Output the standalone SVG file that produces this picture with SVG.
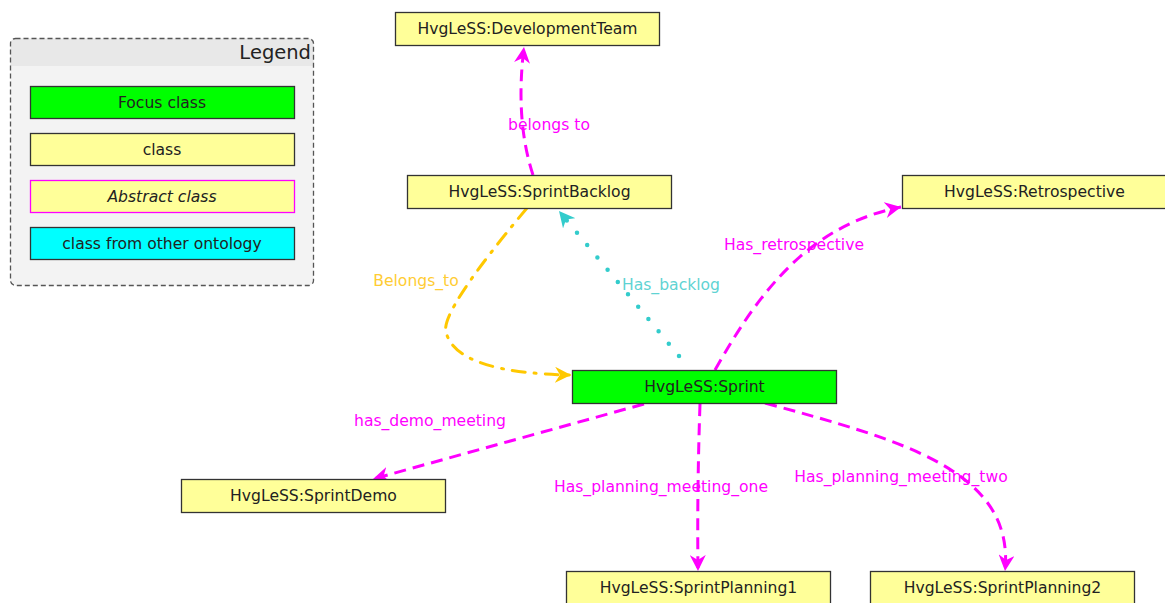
<svg xmlns="http://www.w3.org/2000/svg" width="1165" height="603" viewBox="0 0 1165 603">
  <style>
    text { font-family: "DejaVu Sans", "Liberation Sans", sans-serif; font-size: 15.6px; }
    .node rect { stroke: #333; stroke-width: 1.3; }
    .node text, .item text { fill: #222; text-anchor: middle; dominant-baseline: central; }
    .cls { fill: #ffff99; }
    .focus { fill: #00ff00; }
    .other { fill: #00ffff; }
    .edge { fill: none; stroke-width: 3; }
    .mag { stroke: #ff00ff; stroke-dasharray: 12 7; }
    .cyan { stroke: #33cccc; stroke-width: 4.5; stroke-dasharray: 0 16; stroke-linecap: round; }
    .gold { stroke: #ffc800; stroke-dasharray: 13 9 2 9; stroke-linecap: round; }
    .lbl { text-anchor: middle; dominant-baseline: central; }
  </style>
  <defs>
    <marker id="arrMag" markerUnits="userSpaceOnUse" markerWidth="18" markerHeight="16" refX="16" refY="8" orient="auto">
      <path d="M0,0 L16,8 L0,16 L5,8 z" fill="#ff00ff"/>
    </marker>
    <marker id="arrCyan" markerUnits="userSpaceOnUse" markerWidth="18" markerHeight="16" refX="16" refY="8" orient="auto">
      <path d="M0,0 L16,8 L0,16 L5,8 z" fill="#33cccc"/>
    </marker>
    <marker id="arrGold" markerUnits="userSpaceOnUse" markerWidth="18" markerHeight="16" refX="16" refY="8" orient="auto">
      <path d="M0,0 L16,8 L0,16 L5,8 z" fill="#ffc800"/>
    </marker>
  </defs>

  <!-- legend panel -->
  <g id="legend">
    <rect x="10.5" y="38.5" width="303" height="247" rx="5" fill="#f3f3f3"/>
    <path d="M10.5,66 V43.5 a5,5 0 0 1 5,-5 H308.5 a5,5 0 0 1 5,5 V66 z" fill="#e8e8e8"/>
    <rect x="10.5" y="38.5" width="303" height="247" rx="5" fill="none" stroke="#555" stroke-width="1.3" stroke-dasharray="5 3"/>
    <text x="311" y="52" text-anchor="end" dominant-baseline="central" style="font-size:19.5px" fill="#222">Legend</text>
    <g class="node item">
      <rect class="focus" x="30.5" y="86.5" width="264" height="32"/>
      <text x="162" y="102.5">Focus class</text>
    </g>
    <g class="node item">
      <rect class="cls" x="30.5" y="133.5" width="264" height="32"/>
      <text x="162" y="149.5">class</text>
    </g>
    <g class="item">
      <rect class="cls" x="30.5" y="180.5" width="264" height="32" stroke="#ff00ff" stroke-width="1.3"/>
      <text x="162" y="196.5" font-style="italic">Abstract class</text>
    </g>
    <g class="node item">
      <rect class="other" x="30.5" y="227.5" width="264" height="32"/>
      <text x="162" y="243.5">class from other ontology</text>
    </g>
  </g>

  <!-- connectors -->
  <g id="connectors">
    <path class="edge mag" d="M533,175 Q515,120 524,47" marker-end="url(#arrMag)"/>
    <text class="lbl" x="549" y="125" fill="#ff00ff">belongs to</text>

    <path class="edge cyan" d="M679,356 L559,211" marker-end="url(#arrCyan)"/>
    <text class="lbl" x="671" y="285" fill="#5fd3d3">Has_backlog</text>

    <path class="edge gold" d="M527,208 Q440,312 446,332 Q456,373 571,375" marker-end="url(#arrGold)"/>
    <text class="lbl" x="416" y="281" fill="#ffcc33">Belongs_to</text>

    <path class="edge mag" d="M715,370 C760,290 810,225 901,207" marker-end="url(#arrMag)"/>
    <text class="lbl" x="794" y="245" fill="#ff00ff">Has_retrospective</text>

    <path class="edge mag" d="M644,404 L373,479" marker-end="url(#arrMag)"/>
    <text class="lbl" x="430" y="421" fill="#ff00ff">has_demo_meeting</text>

    <path class="edge mag" d="M700,404 Q697,490 698,571" marker-end="url(#arrMag)"/>
    <text class="lbl" x="661" y="487" fill="#ff00ff">Has_planning_meeting_one</text>

    <path class="edge mag" d="M765,403 C900,440 1015,470 1005,571" marker-end="url(#arrMag)"/>
    <text class="lbl" x="901" y="477" fill="#ff00ff">Has_planning_meeting_two</text>
  </g>

  <!-- class nodes -->
  <g id="DevelopmentTeam" class="node">
    <rect class="cls" x="395.5" y="12.5" width="264" height="33"/>
    <text x="527.5" y="29">HvgLeSS:DevelopmentTeam</text>
  </g>
  <g id="SprintBacklog" class="node">
    <rect class="cls" x="407.5" y="175.5" width="264" height="33"/>
    <text x="539.5" y="192">HvgLeSS:SprintBacklog</text>
  </g>
  <g id="Retrospective" class="node">
    <rect class="cls" x="902.5" y="175.5" width="264" height="33"/>
    <text x="1034.5" y="192">HvgLeSS:Retrospective</text>
  </g>
  <g id="Sprint" class="node">
    <rect class="focus" x="572.5" y="370.5" width="264" height="33"/>
    <text x="704.5" y="387">HvgLeSS:Sprint</text>
  </g>
  <g id="SprintDemo" class="node">
    <rect class="cls" x="181.5" y="479.5" width="264" height="33"/>
    <text x="313.5" y="496">HvgLeSS:SprintDemo</text>
  </g>
  <g id="SprintPlanning1" class="node">
    <rect class="cls" x="566.5" y="571.5" width="264" height="33"/>
    <text x="698.5" y="588">HvgLeSS:SprintPlanning1</text>
  </g>
  <g id="SprintPlanning2" class="node">
    <rect class="cls" x="870.5" y="571.5" width="264" height="33"/>
    <text x="1002.5" y="588">HvgLeSS:SprintPlanning2</text>
  </g>
</svg>
